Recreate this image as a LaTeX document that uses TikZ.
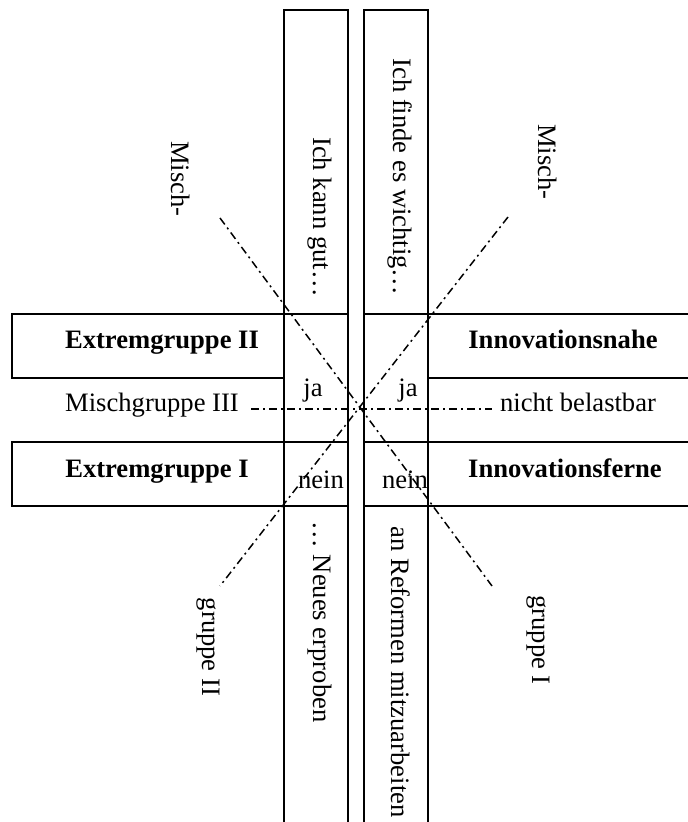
\documentclass[tikz,border=0pt]{standalone}
\usepackage{fontspec}
\setmainfont{Liberation Serif}
\tikzset{
    frame/.style={line width=0.7pt},
    mix/.style={line width=0.75pt, dash pattern=on 4pt off 2pt on 1pt off 2pt},
    grp/.style={font=\fontsize{13.3}{16}\selectfont\bfseries, anchor=base, inner sep=0pt},
    txt/.style={font=\fontsize{13.3}{16}\selectfont, anchor=base, inner sep=0pt},
    item/.style={font=\fontsize{13.3}{16}\selectfont, rotate=-90, inner sep=0pt},
}
\begin{document}
\begin{tikzpicture}[x=0.5pt, y=-0.5pt]
    \useasboundingbox (0,0) rectangle (687,822);
    \draw [frame] (284,822) |- (348,10) -- (348,822);
    \draw [frame] (364,822) |- (428,10) -- (428,822);
    \draw [frame] (348,314) -| (12,378) -- (284,378);
    \draw [frame] (348,442) -| (12,506) -- (348,506);
    \draw [frame] (364,314) -- (690,314);
    \draw [frame] (428,378) -- (690,378);
    \draw [frame] (364,442) -- (690,442);
    \draw [frame] (364,506) -- (690,506);

    \node [grp] (eg2) at (162,349) {Extremgruppe II};
    \node [grp] (eg1) at (157,477) {Extremgruppe I};
    \node [grp] (nahe) at (563,349) {Innovationsnahe};
    \node [grp] (ferne) at (565,477) {Innovationsferne};
    \node [txt] (mg3) at (152,412) {Mischgruppe III};
    \node [txt] (nb) at (578,412) {nicht belastbar};
    \node [txt] (jaL) at (313,397) {ja};
    \node [txt] (jaR) at (408,397) {ja};
    \node [txt] (neinL) at (321,488) {nein};
    \node [txt] (neinR) at (405,488) {nein};

    \node [item] (kann) at (320,217) {Ich kann gut…};
    \node [item] (neues) at (320,622) {… Neues erproben};
    \node [item] (finde) at (400,177) {Ich finde es wichtig…};
    \node [item] (reform) at (401,672) {an Reformen mitzuarbeiten};

    \node [item] (misch1) at (181,179) {Misch-};
    \node [item] (misch2) at (548,162) {Misch-};
    \node [item] (gr2) at (208,647) {gruppe II};
    \node [item] (gr1) at (538,640) {gruppe I};

    \coordinate (m1a) at (220,218);
    \coordinate (m1b) at (492,586);
    \coordinate (m2a) at (508,217);
    \coordinate (m2b) at (220,586);
    \coordinate (m3a) at (251,409);
    \coordinate (m3b) at (492,409);
    \draw [mix] (m1a) -- (m1b);
    \draw [mix] (m2a) -- (m2b);
    \draw [mix] (m3a) -- (m3b);
\end{tikzpicture}
\end{document}
